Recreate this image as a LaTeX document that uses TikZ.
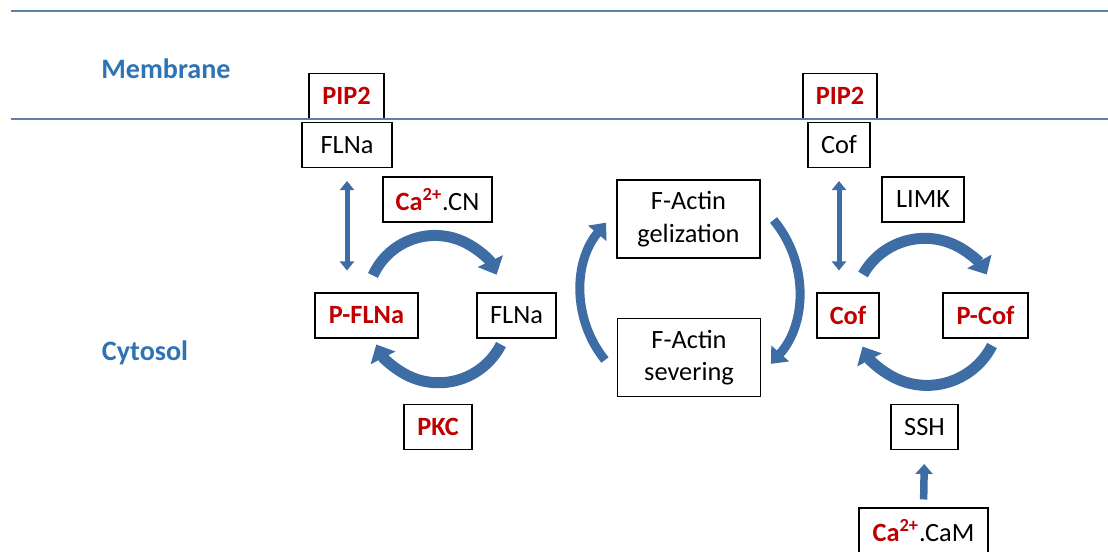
\documentclass[tikz,border=0pt]{standalone}
\usepackage{fontspec}
\setmainfont{Carlito}
\usetikzlibrary{arrows.meta,calc}
\usepackage{xcolor}
\definecolor{CellLine}{HTML}{5D80AA}
\definecolor{CellBlue}{HTML}{2E74B5}
\definecolor{CellArrow}{HTML}{3E6CA4}
\definecolor{CellRed}{HTML}{C00000}
\newcommand{\kin}[1]{\textcolor{CellRed}{\bfseries #1}}
\newcommand{\caion}{\kin{Ca\textsuperscript{2+}}}

\begin{document}
\begin{tikzpicture}[x=0.02cm, y=-0.02cm, font=\fontsize{15}{18.5}\selectfont,
   box/.style={draw, fill=white, line width=0.6pt, minimum height=0.9cm, inner sep=2pt},
   wide/.style={box, minimum width=2.86cm, minimum height=1.56cm, align=center},
   region/.style={font=\fontsize{16}{19}\selectfont\bfseries, text=CellBlue},
   cyc/.style={CellArrow, line width=0.22cm, -{Triangle[width=0.54cm,length=0.3cm]}},
   mid/.style={CellArrow, line width=0.18cm, -{Triangle[width=0.46cm,length=0.28cm]}},
   dbl/.style={CellArrow, line width=0.1cm,
               {Triangle[width=0.28cm,length=0.18cm]}-{Triangle[width=0.28cm,length=0.18cm]}},
   up/.style={CellArrow, line width=0.15cm, -{Triangle[width=0.34cm,length=0.2cm]}}]
  \useasboundingbox (0,0) rectangle (1108,551);

  \node[region] (memb) at (166,69)  {Membrane};
  \node[region] (cyto) at (145,353) {Cytosol};

  % filamin side
  \node[box, minimum width=1.5cm]  (pipl)  at (346.5,96)    {\kin{PIP2}};
  \node[box, minimum width=1.8cm]  (ftop)  at (347,145)     {FLNa};
  \node[box, minimum width=2.18cm] (cacn)  at (437.5,199.5) {\caion.CN};
  \node[box, minimum width=2.06cm] (pflna) at (366.5,315.5) {\kin{P-FLNa}};
  \node[box, minimum width=1.58cm] (flna)  at (516.5,315.5) {FLNa};
  \node[box, minimum width=1.36cm] (pkc)   at (438,427)     {\kin{PKC}};

  % actin
  \node[wide] (gel) at (688.5,219)  {F-Actin\\gelization};
  \node[wide] (sev) at (689,357.5)  {F-Actin\\severing};

  % cofilin side
  \node[box, minimum width=1.48cm] (pipr) at (840,96)      {\kin{PIP2}};
  \node[box, minimum width=1.24cm] (ctop) at (839,145)     {Cof};
  \node[box, minimum width=1.64cm] (limk) at (923,199.5)   {LIMK};
  \node[box, minimum width=1.24cm] (cof)  at (848,315.5)   {\kin{Cof}};
  \node[box, minimum width=1.7cm]  (pcof) at (985.5,315.5) {\kin{P-Cof}};
  \node[box, minimum width=1.34cm] (ssh)  at (924.5,427)   {SSH};
  \node[box, minimum width=2.58cm] (cam)  at (923.5,530.5) {\caion.CaM};

  \draw[CellLine, line width=0.04cm] (11,11) -- (1108,11);
  \draw[CellLine, line width=0.04cm] (11,119) -- (1108,119);

  \draw[dbl, shorten <=0.26cm, shorten >=0.44cm] (ftop.south) -- (ftop.south |- pflna.north);
  \draw[cyc] ($(pflna.north)+(6.5,-17)$) arc[start angle=-155.7, end angle=-25, radius=68];
  \draw[cyc] ($(flna.south)+(-15.5,6)$) arc[start angle=27, end angle=153, radius=70];

  \draw[mid] ($(sev.west)+(-12,2.5)$) arc[start angle=-219, end angle=-140, radius=108];
  \draw[mid] ($(gel.east)+(13,1)$) arc[start angle=-39.8, end angle=41.9, radius=110];

  \draw[dbl, shorten <=0.26cm, shorten >=0.44cm] (ctop.south) -- (ctop.south |- cof.north);
  \draw[cyc] ($(cof.north)+(15,-18)$) arc[start angle=-150.6, end angle=-29.4, radius=71];
  \draw[cyc] ($(pcof.south)+(6.5,7)$) arc[start angle=27, end angle=152, radius=73];
  \draw[up, shorten <=0.16cm, shorten >=0.28cm] (cam.north) -- (ssh.south);
\end{tikzpicture}
\end{document}
